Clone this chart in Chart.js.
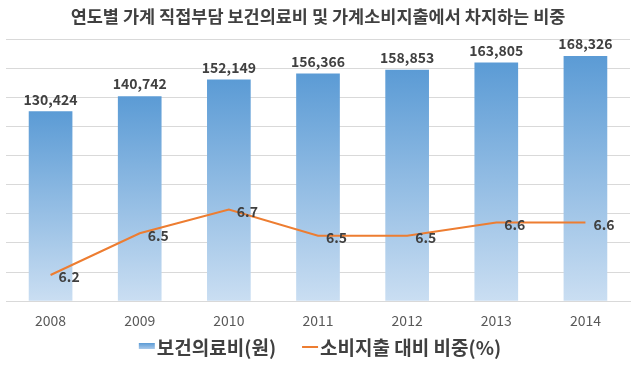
<!DOCTYPE html>
<html>
<head>
<meta charset="utf-8">
<script src="https://cdn.jsdelivr.net/npm/chart.js@4"></script>
<style>
  html, body { margin: 0; padding: 0; background: #fff; }
  #wrap { width: 640px; height: 366px; }
</style>
</head>
<body>
<div id="wrap"><canvas id="chart"></canvas></div>
<script>
const years = ['2008', '2009', '2010', '2011', '2012', '2013', '2014'];
const medicalCost = [130424, 140742, 152149, 156366, 158853, 163805, 168326];
const shareOfSpending = [6.17, 6.52, 6.72, 6.50, 6.50, 6.61, 6.61];
const seriesNames = ['보건의료비(원)', '소비지출 대비 비중(%)'];

const FONT = "'Noto Sans CJK KR', 'Noto Sans', sans-serif";
const TXT = '#404040';
const BLUE_TOP = '#5B9BD5', BLUE_BASE = '#CADEF2', ORANGE = '#ED7D31';

const fmt = n => n.toLocaleString('en-US');

// per-bar vertical gradient, dark at the top, light at the base
function barFill(ctx) {
  const chart = ctx.chart;
  if (!chart.chartArea || ctx.type !== 'data') return '#7FB0DF';
  const y = chart.scales.y;
  const top = y.getPixelForValue(ctx.raw);
  const bottom = y.getPixelForValue(0);
  const g = chart.ctx.createLinearGradient(0, top, 0, bottom);
  g.addColorStop(0, BLUE_TOP);
  g.addColorStop(1, BLUE_BASE);
  return g;
}

// value labels (no datalabels plugin available)
const valueLabels = {
  id: 'valueLabels',
  afterDatasetsDraw(chart) {
    const c = chart.ctx;
    c.save();
    c.fillStyle = TXT;
    c.font = 'bold 14px ' + FONT;
    c.textBaseline = 'middle';

    c.textAlign = 'center';
    chart.getDatasetMeta(0).data.forEach((el, i) => {
      c.fillText(fmt(medicalCost[i]), el.x, el.y - 12);
    });

    c.textAlign = 'left';
    chart.getDatasetMeta(1).data.forEach((el, i) => {
      c.fillText(shareOfSpending[i].toFixed(1), el.x + 8, el.y + 2);
    });
    c.restore();
  }
};

// hand-drawn legend, closer to the Excel look than the built-in one
const bottomLegend = {
  id: 'bottomLegend',
  afterDraw(chart) {
    const c = chart.ctx;
    c.save();
    c.font = 'bold 19px ' + FONT;
    c.textBaseline = 'middle';
    c.textAlign = 'left';
    const sw = 16, gapIn = 2, gapOut = 26;
    const w0 = c.measureText(seriesNames[0]).width;
    const w1 = c.measureText(seriesNames[1]).width;
    const total = sw + gapIn + w0 + gapOut + sw + gapIn + w1;
    let x = (chart.width - total) / 2;
    const y = 348;

    const g = c.createLinearGradient(0, y - 5, 0, y + 1);
    g.addColorStop(0, BLUE_TOP);
    g.addColorStop(1, '#A9C9EA');
    c.fillStyle = g;
    c.fillRect(x, y - 5, sw, 6);
    x += sw + gapIn;
    c.fillStyle = TXT;
    c.fillText(seriesNames[0], x, y);
    x += w0 + gapOut;

    c.strokeStyle = ORANGE;
    c.lineWidth = 2;
    c.beginPath();
    c.moveTo(x, y - 1);
    c.lineTo(x + sw, y - 1);
    c.stroke();
    x += sw + gapIn;
    c.fillText(seriesNames[1], x, y);
    c.restore();
  }
};

new Chart(document.getElementById('chart'), {
  type: 'bar',
  data: {
    labels: years,
    datasets: [
      {
        label: seriesNames[0],
        data: medicalCost,
        backgroundColor: barFill,
        borderWidth: 0,
        categoryPercentage: 1,
        barPercentage: 0.49,
        yAxisID: 'y',
        order: 1
      },
      {
        type: 'line',
        label: seriesNames[1],
        data: shareOfSpending,
        borderColor: ORANGE,
        backgroundColor: ORANGE,
        borderWidth: 2,
        pointRadius: 0,
        tension: 0,
        yAxisID: 'y2',
        order: 0
      }
    ]
  },
  options: {
    responsive: true, maintainAspectRatio: false,
    animation: false,
    layout: { padding: { left: 6, right: 10, top: 0, bottom: 34 } },
    plugins: {
      title: {
        display: true,
        text: '연도별 가계 직접부담 보건의료비 및 가계소비지출에서 차지하는 비중',
        color: TXT,
        font: { family: FONT, size: 17.5, weight: 'bold' },
        padding: { top: 6, bottom: 12 }
      },
      legend: { display: false },
      tooltip: { enabled: false }
    },
    scales: {
      x: {
        grid: { display: false },
        border: { color: '#D9D9D9' },
        ticks: { color: '#595959', font: { family: FONT, size: 14 }, padding: 3 }
      },
      y: {
        min: 0, max: 180000,
        ticks: { display: false, stepSize: 20000 },
        grid: { color: '#D9D9D9', drawTicks: false },
        border: { display: false }
      },
      y2: {
        display: false,
        min: 5.95, max: 8.15
      }
    }
  },
  plugins: [valueLabels, bottomLegend]
});
</script>
</body>
</html>
